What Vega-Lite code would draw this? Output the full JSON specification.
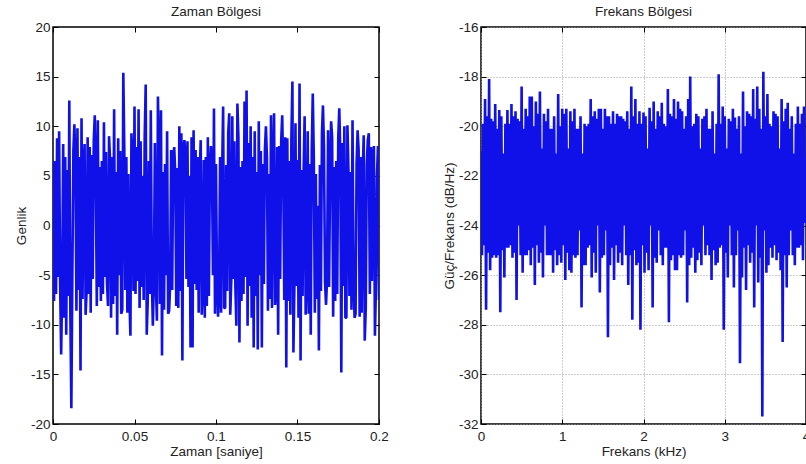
{
"$schema": "https://vega.github.io/schema/vega-lite/v6.json",
"background": "white",
"padding": {"left": 13, "top": 3, "right": 0, "bottom": 0},
"config": {
  "font": "Liberation Sans",
  "view": {"stroke": "#000", "strokeWidth": 1.5},
  "axis": {"labelFont": "Liberation Sans", "titleFont": "Liberation Sans", "labelFontSize": 13.5, "titleFontSize": 13.5, "titleFontWeight": "normal", "labelColor": "#222", "titleColor": "#222", "tickColor": "#000", "tickWidth": 1, "tickSize": -5, "domain": false, "grid": false, "labelFlush": false, "labelOverlap": false},
  "title": {"font": "Liberation Sans", "fontSize": 13.5, "fontWeight": "normal", "color": "#222", "baseline": "alphabetic", "offset": 2, "frame": "group"}
},
"bounds": "flush",
"spacing": 102,
"datasets": {
"zaman": [
{"t":0,"a":6.5},{"t":0.000625,"a":-7.6},{"t":0.00125,"a":6.5},{"t":0.001875,"a":-6.9},{"t":0.0025,"a":8.8},{"t":0.003125,"a":-5.2},{"t":0.00375,"a":9.5},{"t":0.004375,"a":-5.8},
{"t":0.005,"a":-13},{"t":0.005625,"a":-6.1},{"t":0.00625,"a":8.2},{"t":0.006875,"a":-9.3},{"t":0.0075,"a":6.9},{"t":0.008125,"a":-11},{"t":0.00875,"a":5.6},{"t":0.009375,"a":-7.1},
{"t":0.01,"a":12.6},{"t":0.010625,"a":-8.5},{"t":0.01125,"a":-18.4},{"t":0.011875,"a":-5.0},{"t":0.0125,"a":7.5},{"t":0.013125,"a":10.2},{"t":0.01375,"a":6.2},{"t":0.014375,"a":-8.6},
{"t":0.015,"a":9.8},{"t":0.015625,"a":-6.5},{"t":0.01625,"a":6.9},{"t":0.016875,"a":-14.6},{"t":0.0175,"a":10.8},{"t":0.018125,"a":-7.4},{"t":0.01875,"a":5.8},{"t":0.019375,"a":8.2},
{"t":0.02,"a":-9},{"t":0.020625,"a":-6.6},{"t":0.02125,"a":8.9},{"t":0.021875,"a":-6.9},{"t":0.0225,"a":7.9},{"t":0.023125,"a":-8.8},{"t":0.02375,"a":7.1},{"t":0.024375,"a":-5.4},
{"t":0.025,"a":8.5},{"t":0.025625,"a":11.1},{"t":0.02625,"a":5.0},{"t":0.026875,"a":-8.1},{"t":0.0275,"a":10.6},{"t":0.028125,"a":-6.2},{"t":0.02875,"a":5.9},{"t":0.029375,"a":-7.6},
{"t":0.03,"a":6.5},{"t":0.030625,"a":-6.9},{"t":0.03125,"a":10.4},{"t":0.031875,"a":-5.2},{"t":0.0325,"a":7.4},{"t":0.033125,"a":-5.8},{"t":0.03375,"a":-8.1},{"t":0.034375,"a":9},
{"t":0.035,"a":6.6},{"t":0.035625,"a":-9.3},{"t":0.03625,"a":6.9},{"t":0.036875,"a":-7.9},{"t":0.0375,"a":11.7},{"t":0.038125,"a":-7.1},{"t":0.03875,"a":5.4},{"t":0.039375,"a":-11},
{"t":0.04,"a":8.8},{"t":0.040625,"a":-5.0},{"t":0.04125,"a":7.5},{"t":0.041875,"a":-8.9},{"t":0.0425,"a":-8.5},{"t":0.043125,"a":15.4},{"t":0.04375,"a":7.6},{"t":0.044375,"a":-6.5},
{"t":0.045,"a":6.9},{"t":0.045625,"a":-8.8},{"t":0.04625,"a":5.2},{"t":0.046875,"a":-7.4},{"t":0.0475,"a":-11.1},{"t":0.048125,"a":9.3},{"t":0.04875,"a":6.1},{"t":0.049375,"a":-6.6},
{"t":0.05,"a":12},{"t":0.050625,"a":-6.9},{"t":0.05125,"a":7.9},{"t":0.051875,"a":-5.6},{"t":0.0525,"a":11.7},{"t":0.053125,"a":-8.3},{"t":0.05375,"a":8.5},{"t":0.054375,"a":-6.2},
{"t":0.055,"a":5.0},{"t":0.055625,"a":-7.5},{"t":0.05625,"a":8.9},{"t":0.056875,"a":14.2},{"t":0.0575,"a":-11},{"t":0.058125,"a":-7.6},{"t":0.05875,"a":6.5},{"t":0.059375,"a":-6.9},
{"t":0.06,"a":11.6},{"t":0.060625,"a":-5.2},{"t":0.06125,"a":-10.1},{"t":0.061875,"a":-5.8},{"t":0.0625,"a":8.3},{"t":0.063125,"a":-6.1},{"t":0.06375,"a":-9.6},{"t":0.064375,"a":13},
{"t":0.065,"a":6.9},{"t":0.065625,"a":-7.9},{"t":0.06625,"a":11.6},{"t":0.066875,"a":-13.1},{"t":0.0675,"a":5.4},{"t":0.068125,"a":-8.5},{"t":0.06875,"a":6.2},{"t":0.069375,"a":-5.0},
{"t":0.07,"a":9.5},{"t":0.070625,"a":-8.9},{"t":0.07125,"a":-8.6},{"t":0.071875,"a":-5.9},{"t":0.0725,"a":7.6},{"t":0.073125,"a":-6.5},{"t":0.07375,"a":6.9},{"t":0.074375,"a":7.9},
{"t":0.075,"a":5.2},{"t":0.075625,"a":-8.1},{"t":0.07625,"a":5.8},{"t":0.076875,"a":-8.3},{"t":0.0775,"a":10},{"t":0.078125,"a":-6.6},{"t":0.07875,"a":9.3},{"t":0.079375,"a":-13.6},
{"t":0.08,"a":7.9},{"t":0.080625,"a":8.6},{"t":0.08125,"a":7.1},{"t":0.081875,"a":-5.4},{"t":0.0825,"a":8.5},{"t":0.083125,"a":-6.2},{"t":0.08375,"a":5.0},{"t":0.084375,"a":-12.3},
{"t":0.085,"a":8.9},{"t":0.085625,"a":-12.3},{"t":0.08625,"a":9.6},{"t":0.086875,"a":-5.9},{"t":0.0875,"a":7.6},{"t":0.088125,"a":-6.5},{"t":0.08875,"a":6.9},{"t":0.089375,"a":-8.8},
{"t":0.09,"a":5.2},{"t":0.090625,"a":8.6},{"t":0.09125,"a":-9},{"t":0.091875,"a":-6.1},{"t":0.0925,"a":6.6},{"t":0.093125,"a":-9.3},{"t":0.09375,"a":6.9},{"t":0.094375,"a":-8.1},
{"t":0.095,"a":8.9},{"t":0.095625,"a":-7.1},{"t":0.09625,"a":5.4},{"t":0.096875,"a":8},{"t":0.0975,"a":6.2},{"t":0.098125,"a":-5.0},{"t":0.09875,"a":11.8},{"t":0.099375,"a":-8.9},
{"t":0.1,"a":6.2},{"t":0.100625,"a":-5.9},{"t":0.10125,"a":-9.2},{"t":0.101875,"a":-6.5},{"t":0.1025,"a":6.9},{"t":0.103125,"a":-8.8},{"t":0.10375,"a":5.2},{"t":0.104375,"a":12},
{"t":0.105,"a":-8.3},{"t":0.105625,"a":-8.3},{"t":0.10625,"a":6.1},{"t":0.106875,"a":-6.6},{"t":0.1075,"a":9.3},{"t":0.108125,"a":11.3},{"t":0.10875,"a":-9},{"t":0.109375,"a":-5.6},
{"t":0.11,"a":11},{"t":0.110625,"a":-5.4},{"t":0.11125,"a":8.5},{"t":0.111875,"a":-6.2},{"t":0.1125,"a":-10.1},{"t":0.113125,"a":12.3},{"t":0.11375,"a":8.9},{"t":0.114375,"a":-11.8},
{"t":0.115,"a":5.9},{"t":0.115625,"a":-7.6},{"t":0.11625,"a":6.5},{"t":0.116875,"a":-6.9},{"t":0.1175,"a":12.5},{"t":0.118125,"a":-5.2},{"t":0.11875,"a":13.6},{"t":0.119375,"a":-10.1},
{"t":0.12,"a":8.3},{"t":0.120625,"a":-6.1},{"t":0.12125,"a":10},{"t":0.121875,"a":-9.3},{"t":0.1225,"a":6.9},{"t":0.123125,"a":-12.3},{"t":0.12375,"a":9.5},{"t":0.124375,"a":-7.1},
{"t":0.125,"a":5.4},{"t":0.125625,"a":-12.5},{"t":0.12625,"a":10.5},{"t":0.126875,"a":-5.0},{"t":0.1275,"a":7.5},{"t":0.128125,"a":-12.3},{"t":0.12875,"a":6.2},{"t":0.129375,"a":-5.9},
{"t":0.13,"a":7.6},{"t":0.130625,"a":10},{"t":0.13125,"a":6.9},{"t":0.131875,"a":-8.6},{"t":0.1325,"a":5.2},{"t":0.133125,"a":-7.4},{"t":0.13375,"a":11.1},{"t":0.134375,"a":-8.3},
{"t":0.135,"a":6.1},{"t":0.135625,"a":11.3},{"t":0.13625,"a":-8},{"t":0.136875,"a":-6.9},{"t":0.1375,"a":7.9},{"t":0.138125,"a":-11},{"t":0.13875,"a":8},{"t":0.139375,"a":-5.4},
{"t":0.14,"a":8.5},{"t":0.140625,"a":11.1},{"t":0.14125,"a":5.0},{"t":0.141875,"a":-7.5},{"t":0.1425,"a":8.9},{"t":0.143125,"a":-14.3},{"t":0.14375,"a":8.8},{"t":0.144375,"a":-7.6},
{"t":0.145,"a":6.5},{"t":0.145625,"a":-9},{"t":0.14625,"a":8.8},{"t":0.146875,"a":14.5},{"t":0.1475,"a":-12.8},{"t":0.148125,"a":-5.8},{"t":0.14875,"a":10.3},{"t":0.149375,"a":-6.1},
{"t":0.15,"a":6.6},{"t":0.150625,"a":-9.3},{"t":0.15125,"a":14.3},{"t":0.151875,"a":-13.6},{"t":0.1525,"a":5.6},{"t":0.153125,"a":-7.1},{"t":0.15375,"a":5.4},{"t":0.154375,"a":11},
{"t":0.155,"a":-9},{"t":0.155625,"a":-5.0},{"t":0.15625,"a":9.5},{"t":0.156875,"a":-8.9},{"t":0.1575,"a":6.2},{"t":0.158125,"a":-11},{"t":0.15875,"a":7.6},{"t":0.159375,"a":13.3},
{"t":0.16,"a":6.9},{"t":0.160625,"a":-8.8},{"t":0.16125,"a":5.2},{"t":0.161875,"a":-7.4},{"t":0.1625,"a":2.0},{"t":0.163125,"a":-12.6},{"t":0.16375,"a":6.1},{"t":0.164375,"a":-6.6},
{"t":0.165,"a":9.3},{"t":0.165625,"a":12.1},{"t":0.16625,"a":7.9},{"t":0.166875,"a":-5.6},{"t":0.1675,"a":-8},{"t":0.168125,"a":-5.4},{"t":0.16875,"a":9.6},{"t":0.169375,"a":-6.2},
{"t":0.17,"a":5.0},{"t":0.170625,"a":10.5},{"t":0.17125,"a":8.9},{"t":0.171875,"a":-9.2},{"t":0.1725,"a":5.9},{"t":0.173125,"a":-7.6},{"t":0.17375,"a":6.5},{"t":0.174375,"a":-6.9},
{"t":0.175,"a":8.8},{"t":0.175625,"a":11.8},{"t":0.17625,"a":7.4},{"t":0.176875,"a":-14.8},{"t":0.1775,"a":8.3},{"t":0.178125,"a":-6.1},{"t":0.17875,"a":10},{"t":0.179375,"a":-9.3},
{"t":0.18,"a":-9.3},{"t":0.180625,"a":10.1},{"t":0.18125,"a":5.6},{"t":0.181875,"a":-7.1},{"t":0.1825,"a":5.4},{"t":0.183125,"a":-8.5},{"t":0.18375,"a":10.6},{"t":0.184375,"a":-5.0},
{"t":0.185,"a":-9.3},{"t":0.185625,"a":-8.9},{"t":0.18625,"a":6.2},{"t":0.186875,"a":9.6},{"t":0.1875,"a":7.6},{"t":0.188125,"a":-9.2},{"t":0.18875,"a":6.9},{"t":0.189375,"a":-8.8},
{"t":0.19,"a":5.2},{"t":0.190625,"a":9.1},{"t":0.19125,"a":-11.6},{"t":0.191875,"a":-8.3},{"t":0.1925,"a":6.1},{"t":0.193125,"a":8.6},{"t":0.19375,"a":9.3},{"t":0.194375,"a":-6.9},
{"t":0.195,"a":7.9},{"t":0.195625,"a":-5.6},{"t":0.19625,"a":7.1},{"t":0.196875,"a":8},{"t":0.1975,"a":-11.1},{"t":0.198125,"a":-6.2},{"t":0.19875,"a":5.0},{"t":0.199375,"a":8},
{"t":0.2,"a":-7.5}
],
"frekans": [
{"f":0,"p":-21.0},{"f":0.0125,"p":-25.2},{"f":0.025,"p":-19.9},{"f":0.0375,"p":-24.8},{"f":0.05,"p":-18.9},{"f":0.0625,"p":-27.4},{"f":0.075,"p":-19.6},{"f":0.0875,"p":-25.1},
{"f":0.1,"p":-18.1},{"f":0.1125,"p":-25.8},{"f":0.125,"p":-19.7},{"f":0.1375,"p":-25.3},{"f":0.15,"p":-19.8},{"f":0.1625,"p":-25.2},{"f":0.175,"p":-19.1},{"f":0.1875,"p":-25.3},
{"f":0.2,"p":-20.1},{"f":0.2125,"p":-25.2},{"f":0.225,"p":-19.35},{"f":0.2375,"p":-27.5},{"f":0.25,"p":-19.6},{"f":0.2625,"p":-25.0},{"f":0.275,"p":-21.1},{"f":0.2875,"p":-26.1},
{"f":0.3,"p":-19.9},{"f":0.3125,"p":-24.9},{"f":0.325,"p":-19.35},{"f":0.3375,"p":-24.9},{"f":0.35,"p":-19.9},{"f":0.3625,"p":-24.8},{"f":0.375,"p":-19.1},{"f":0.3875,"p":-25.3},
{"f":0.4,"p":-19.6},{"f":0.4125,"p":-25.1},{"f":0.425,"p":-19.4},{"f":0.4375,"p":-27.0},{"f":0.45,"p":-19.7},{"f":0.4625,"p":-24.0},{"f":0.475,"p":-19.8},{"f":0.4875,"p":-25.2},
{"f":0.5,"p":-18.4},{"f":0.5125,"p":-25.9},{"f":0.525,"p":-20.1},{"f":0.5375,"p":-25.2},{"f":0.55,"p":-19.3},{"f":0.5625,"p":-25.2},{"f":0.575,"p":-19.6},{"f":0.5875,"p":-25.0},
{"f":0.6,"p":-18.8},{"f":0.6125,"p":-25.6},{"f":0.625,"p":-18.8},{"f":0.6375,"p":-24.9},{"f":0.65,"p":-20.0},{"f":0.6625,"p":-26.4},{"f":0.675,"p":-19.0},{"f":0.6875,"p":-24.8},
{"f":0.7,"p":-19.5},{"f":0.7125,"p":-25.5},{"f":0.725,"p":-18.6},{"f":0.7375,"p":-25.1},{"f":0.75,"p":-20.9},{"f":0.7625,"p":-26.1},{"f":0.775,"p":-19.5},{"f":0.7875,"p":-24.0},
{"f":0.8,"p":-19.8},{"f":0.8125,"p":-25.2},{"f":0.825,"p":-19.3},{"f":0.8375,"p":-25.2},{"f":0.85,"p":-20.1},{"f":0.8625,"p":-25.2},{"f":0.875,"p":-20.1},{"f":0.8875,"p":-25.9},
{"f":0.9,"p":-19.6},{"f":0.9125,"p":-25.0},{"f":0.925,"p":-21.1},{"f":0.9375,"p":-25.6},{"f":0.95,"p":-18.7},{"f":0.9625,"p":-25.2},{"f":0.975,"p":-20.0},{"f":0.9875,"p":-25.5},
{"f":1.0,"p":-19.3},{"f":1.0125,"p":-24.8},{"f":1.025,"p":-19.5},{"f":1.0375,"p":-26.2},{"f":1.05,"p":-19.3},{"f":1.0625,"p":-25.1},{"f":1.075,"p":-20.9},{"f":1.0875,"p":-25.8},
{"f":1.1,"p":-19.4},{"f":1.1125,"p":-25.9},{"f":1.125,"p":-19.8},{"f":1.1375,"p":-25.2},{"f":1.15,"p":-19.3},{"f":1.1625,"p":-25.3},{"f":1.175,"p":-20.1},{"f":1.1875,"p":-25.2},
{"f":1.2,"p":-20.1},{"f":1.2125,"p":-24.2},{"f":1.225,"p":-19.6},{"f":1.2375,"p":-27.3},{"f":1.25,"p":-21.1},{"f":1.2625,"p":-25.6},{"f":1.275,"p":-19.9},{"f":1.2875,"p":-25.6},
{"f":1.3,"p":-20.0},{"f":1.3125,"p":-24.9},{"f":1.325,"p":-19.9},{"f":1.3375,"p":-24.8},{"f":1.35,"p":-18.9},{"f":1.3625,"p":-26.1},{"f":1.375,"p":-19.6},{"f":1.3875,"p":-25.1},
{"f":1.4,"p":-19.4},{"f":1.4125,"p":-25.9},{"f":1.425,"p":-19.7},{"f":1.4375,"p":-24.0},{"f":1.45,"p":-19.3},{"f":1.4625,"p":-26.7},{"f":1.475,"p":-19.3},{"f":1.4875,"p":-25.3},
{"f":1.5,"p":-20.1},{"f":1.5125,"p":-25.2},{"f":1.525,"p":-19.3},{"f":1.5375,"p":-24.2},{"f":1.55,"p":-19.6},{"f":1.5625,"p":-28.5},{"f":1.575,"p":-19.6},{"f":1.5875,"p":-25.6},
{"f":1.6,"p":-19.9},{"f":1.6125,"p":-24.9},{"f":1.625,"p":-19.4},{"f":1.6375,"p":-26.2},{"f":1.65,"p":-19.9},{"f":1.6625,"p":-24.8},{"f":1.675,"p":-19.5},{"f":1.6875,"p":-25.5},
{"f":1.7,"p":-19.6},{"f":1.7125,"p":-25.1},{"f":1.725,"p":-19.6},{"f":1.7375,"p":-25.6},{"f":1.75,"p":-19.7},{"f":1.7625,"p":-24.0},{"f":1.775,"p":-19.8},{"f":1.7875,"p":-25.2},
{"f":1.8,"p":-19.4},{"f":1.8125,"p":-26.4},{"f":1.825,"p":-20.1},{"f":1.8375,"p":-25.2},{"f":1.85,"p":-18.4},{"f":1.8625,"p":-27.8},{"f":1.875,"p":-19.6},{"f":1.8875,"p":-25.0},
{"f":1.9,"p":-18.9},{"f":1.9125,"p":-25.6},{"f":1.925,"p":-19.9},{"f":1.9375,"p":-25.5},{"f":1.95,"p":-19.4},{"f":1.9625,"p":-28.2},{"f":1.975,"p":-19.9},{"f":1.9875,"p":-24.8},
{"f":2.0,"p":-19.45},{"f":2.0125,"p":-25.9},{"f":2.025,"p":-19.6},{"f":2.0375,"p":-25.1},{"f":2.05,"p":-20.9},{"f":2.0625,"p":-25.8},{"f":2.075,"p":-19.25},{"f":2.0875,"p":-24.0},
{"f":2.1,"p":-19.8},{"f":2.1125,"p":-27.3},{"f":2.125,"p":-19.0},{"f":2.1375,"p":-25.3},{"f":2.15,"p":-20.1},{"f":2.1625,"p":-25.5},{"f":2.175,"p":-19.4},{"f":2.1875,"p":-24.2},
{"f":2.2,"p":-19.6},{"f":2.2125,"p":-25.2},{"f":2.225,"p":-19.05},{"f":2.2375,"p":-25.6},{"f":2.25,"p":-19.9},{"f":2.2625,"p":-24.9},{"f":2.275,"p":-20.0},{"f":2.2875,"p":-24.9},
{"f":2.3,"p":-18.5},{"f":2.3125,"p":-27.9},{"f":2.325,"p":-19.5},{"f":2.3375,"p":-25.4},{"f":2.35,"p":-19.6},{"f":2.3625,"p":-25.2},{"f":2.375,"p":-18.9},{"f":2.3875,"p":-25.8},
{"f":2.4,"p":-19.7},{"f":2.4125,"p":-25.8},{"f":2.425,"p":-19.0},{"f":2.4375,"p":-25.2},{"f":2.45,"p":-19.3},{"f":2.4625,"p":-25.3},{"f":2.475,"p":-19.4},{"f":2.4875,"p":-25.2},
{"f":2.5,"p":-20.1},{"f":2.5125,"p":-24.2},{"f":2.525,"p":-19.6},{"f":2.5375,"p":-27.1},{"f":2.55,"p":-18.9},{"f":2.5625,"p":-25.6},{"f":2.575,"p":-18.0},{"f":2.5875,"p":-25.3},
{"f":2.6,"p":-20.0},{"f":2.6125,"p":-24.9},{"f":2.625,"p":-19.9},{"f":2.6375,"p":-25.9},{"f":2.65,"p":-19.5},{"f":2.6625,"p":-25.4},{"f":2.675,"p":-19.6},{"f":2.6875,"p":-25.1},
{"f":2.7,"p":-20.9},{"f":2.7125,"p":-25.6},{"f":2.725,"p":-19.7},{"f":2.7375,"p":-24.0},{"f":2.75,"p":-19.6},{"f":2.7625,"p":-25.2},{"f":2.775,"p":-19.3},{"f":2.7875,"p":-24.8},
{"f":2.8,"p":-20.1},{"f":2.8125,"p":-25.2},{"f":2.825,"p":-20.1},{"f":2.8375,"p":-26.2},{"f":2.85,"p":-19.4},{"f":2.8625,"p":-25.0},{"f":2.875,"p":-21.1},{"f":2.8875,"p":-25.6},
{"f":2.9,"p":-19.9},{"f":2.9125,"p":-25.5},{"f":2.925,"p":-17.9},{"f":2.9375,"p":-24.9},{"f":2.95,"p":-19.9},{"f":2.9625,"p":-24.8},{"f":2.975,"p":-19.2},{"f":2.9875,"p":-28.2},
{"f":3.0,"p":-19.6},{"f":3.0125,"p":-25.1},{"f":3.025,"p":-20.9},{"f":3.0375,"p":-26.1},{"f":3.05,"p":-19.7},{"f":3.0625,"p":-24.0},{"f":3.075,"p":-19.8},{"f":3.0875,"p":-25.2},
{"f":3.1,"p":-19.3},{"f":3.1125,"p":-26.5},{"f":3.125,"p":-19.65},{"f":3.1375,"p":-25.2},{"f":3.15,"p":-20.1},{"f":3.1625,"p":-24.2},{"f":3.175,"p":-19.6},{"f":3.1875,"p":-29.55},
{"f":3.2,"p":-21.1},{"f":3.2125,"p":-26.1},{"f":3.225,"p":-18.6},{"f":3.2375,"p":-24.9},{"f":3.25,"p":-20.0},{"f":3.2625,"p":-26.6},{"f":3.275,"p":-19.4},{"f":3.2875,"p":-24.8},
{"f":3.3,"p":-19.5},{"f":3.3125,"p":-25.5},{"f":3.325,"p":-19.6},{"f":3.3375,"p":-25.1},{"f":3.35,"p":-18.5},{"f":3.3625,"p":-27.3},{"f":3.375,"p":-19.7},{"f":3.3875,"p":-24.0},
{"f":3.4,"p":-18.4},{"f":3.4125,"p":-26.3},{"f":3.425,"p":-19.3},{"f":3.4375,"p":-25.3},{"f":3.45,"p":-20.1},{"f":3.4625,"p":-31.7},{"f":3.475,"p":-17.8},{"f":3.4875,"p":-24.2},
{"f":3.5,"p":-19.6},{"f":3.5125,"p":-25.9},{"f":3.525,"p":-18.7},{"f":3.5375,"p":-25.6},{"f":3.55,"p":-19.9},{"f":3.5625,"p":-24.9},{"f":3.575,"p":-20.0},{"f":3.5875,"p":-25.3},
{"f":3.6,"p":-19.4},{"f":3.6125,"p":-24.8},{"f":3.625,"p":-19.5},{"f":3.6375,"p":-25.4},{"f":3.65,"p":-19.6},{"f":3.6625,"p":-25.1},{"f":3.675,"p":-20.9},{"f":3.6875,"p":-25.8},
{"f":3.7,"p":-18.9},{"f":3.7125,"p":-28.7},{"f":3.725,"p":-19.8},{"f":3.7375,"p":-25.2},{"f":3.75,"p":-19.3},{"f":3.7625,"p":-26.5},{"f":3.775,"p":-19.05},{"f":3.7875,"p":-25.2},
{"f":3.8,"p":-20.1},{"f":3.8125,"p":-24.2},{"f":3.825,"p":-19.6},{"f":3.8375,"p":-25.2},{"f":3.85,"p":-21.1},{"f":3.8625,"p":-25.6},{"f":3.875,"p":-19.9},{"f":3.8875,"p":-24.9},
{"f":3.9,"p":-19.2},{"f":3.9125,"p":-24.9},{"f":3.925,"p":-19.9},{"f":3.9375,"p":-24.8},{"f":3.95,"p":-19.5},{"f":3.9625,"p":-25.4},{"f":3.975,"p":-19.2},{"f":3.9875,"p":-23.9},
{"f":4.0,"p":-21.3}
]
},
"hconcat": [
{
  "width": 326, "height": 397,
  "title": {"text": "Zaman Bölgesi"},
  "data": {"name": "zaman"},
  "layer": [
    {
      "mark": {"type": "line", "color": "#1010e8", "strokeWidth": 2.6, "strokeJoin": "bevel", "clip": true},
      "encoding": {
        "x": {"field": "t", "type": "quantitative", "scale": {"domain": [0, 0.2], "nice": false, "zero": false},
              "axis": {"orient": "bottom", "values": [0, 0.05, 0.1, 0.15, 0.2], "labelExpr": "'' + datum.value", "labelPadding": 10, "title": "Zaman [saniye]", "titleY": 27, "titleBaseline": "middle"}},
        "y": {"field": "a", "type": "quantitative", "scale": {"domain": [-20, 20], "nice": false, "zero": false},
              "axis": {"orient": "left", "values": [-20, -15, -10, -5, 0, 5, 10, 15, 20], "labelExpr": "'' + datum.value", "labelPadding": 8, "title": "Genlik", "titleX": -32, "titleBaseline": "middle"}}
      }
    },
    {
      "mark": {"type": "line", "opacity": 0},
      "encoding": {
        "x": {"field": "t", "type": "quantitative", "axis": {"orient": "top", "values": [0, 0.05, 0.1, 0.15, 0.2], "labels": false, "title": null, "minExtent": 0}},
        "y": {"field": "a", "type": "quantitative", "axis": {"orient": "right", "values": [-20, -15, -10, -5, 0, 5, 10, 15, 20], "labels": false, "title": null, "minExtent": 0}}
      }
    }
  ],
  "resolve": {"axis": {"x": "independent", "y": "independent"}}
},
{
  "width": 325, "height": 397,
  "title": {"text": "Frekans Bölgesi"},
  "data": {"name": "frekans"},
  "layer": [
    {
      "mark": {"type": "line", "color": "#1010e8", "strokeWidth": 2.6, "strokeJoin": "bevel", "clip": true},
      "encoding": {
        "x": {"field": "f", "type": "quantitative", "scale": {"domain": [0, 4], "nice": false, "zero": false},
              "axis": {"orient": "bottom", "values": [0, 1, 2, 3, 4], "labelExpr": "'' + datum.value", "labelPadding": 10, "title": "Frekans (kHz)", "titleY": 27, "titleBaseline": "middle", "grid": true, "gridColor": "#9a9a9a", "gridDash": [1, 2], "gridWidth": 1}},
        "y": {"field": "p", "type": "quantitative", "scale": {"domain": [-32, -16], "nice": false, "zero": false},
              "axis": {"orient": "left", "values": [-32, -30, -28, -26, -24, -22, -20, -18, -16], "labelExpr": "'' + datum.value", "labelPadding": 8, "title": "Güç/Frekans (dB/Hz)", "titleX": -32, "titleBaseline": "middle", "grid": true, "gridColor": "#9a9a9a", "gridDash": [1, 2], "gridWidth": 1}}
      }
    },
    {
      "mark": {"type": "line", "opacity": 0},
      "encoding": {
        "x": {"field": "f", "type": "quantitative", "axis": {"orient": "top", "values": [0, 1, 2, 3, 4], "labels": false, "title": null, "minExtent": 0}},
        "y": {"field": "p", "type": "quantitative", "axis": {"orient": "right", "values": [-32, -30, -28, -26, -24, -22, -20, -18, -16], "labels": false, "title": null, "minExtent": 0}}
      }
    }
  ],
  "resolve": {"axis": {"x": "independent", "y": "independent"}}
}
]
}
